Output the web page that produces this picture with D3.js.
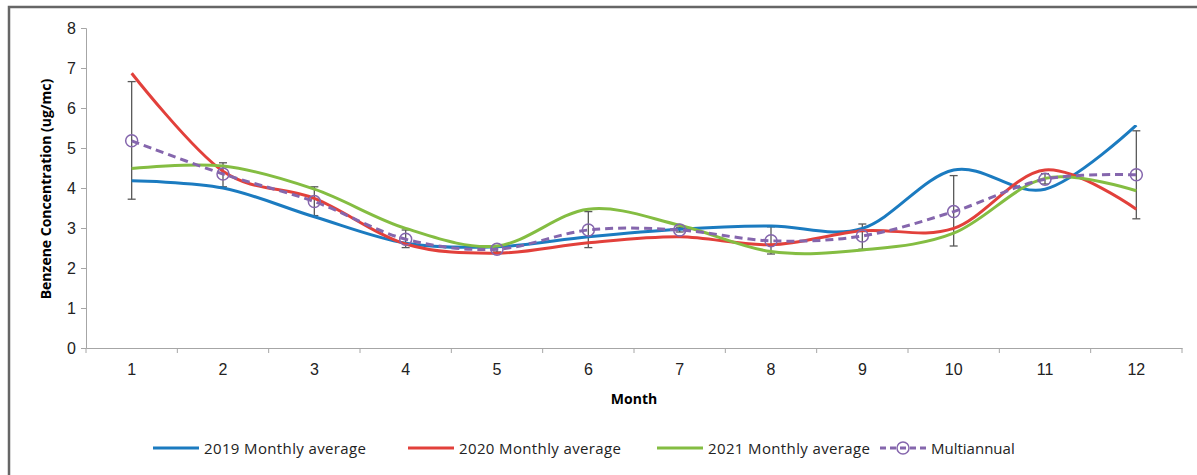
<!DOCTYPE html>
<html>
<head>
<meta charset="utf-8">
<script src="https://cdn.jsdelivr.net/npm/d3@7"></script>
<style>
  html, body { margin: 0; padding: 0; background: #fff; }
  svg { display: block; font-family: 'Open Sans', sans-serif; }
</style>
</head>
<body>
<div id="chart"></div>
<script>
const months = [1, 2, 3, 4, 5, 6, 7, 8, 9, 10, 11, 12];
const avg2019 = [4.18, 4.0, 3.28, 2.62, 2.53, 2.78, 2.97, 3.05, 2.99, 4.45, 3.97, 5.57];
const avg2020 = [6.87, 4.42, 3.74, 2.6, 2.37, 2.63, 2.78, 2.58, 2.93, 2.99, 4.45, 3.47];
const avg2021 = [4.49, 4.55, 3.97, 2.99, 2.55, 3.47, 3.07, 2.41, 2.45, 2.87, 4.24, 3.93];
const multiannual = [5.18, 4.35, 3.66, 2.72, 2.47, 2.95, 2.95, 2.68, 2.8, 3.41, 4.22, 4.33];
const errHigh = [6.66, 4.63, 4.03, 2.95, 2.56, 3.41, 3.02, 3.03, 3.1, 4.31, 4.36, 5.43];
const errLow = [3.72, 4.03, 3.31, 2.51, 2.4, 2.51, 2.9, 2.35, 2.47, 2.55, 4.1, 3.23];
const yTicks = [0, 1, 2, 3, 4, 5, 6, 7, 8];

const series = [
  { name: '2019 Monthly average', values: avg2019, color: '#1b7bc0' },
  { name: '2020 Monthly average', values: avg2020, color: '#e2403b' },
  { name: '2021 Monthly average', values: avg2021, color: '#84bd42' }
];
const purple = '#8566ad';

const W = 1197, H = 475;
const svg = d3.select('#chart').append('svg').attr('width', W).attr('height', H);

// Frame (only top and left edges are visible)
svg.append('path')
  .attr('d', `M9,${H} L9,7 L${W},7`)
  .attr('fill', 'none').attr('stroke', '#666').attr('stroke-width', 2.5);

const x = d3.scaleBand().domain(months).range([86, 1182]);
const y = d3.scaleLinear().domain([0, 8]).range([348, 28]);
const cx = d => x(d) + x.bandwidth() / 2;

// Y axis
const yAxis = svg.append('g').attr('transform', 'translate(86,0)')
  .call(d3.axisLeft(y).tickValues(yTicks).tickSize(5).tickFormat(d3.format('d')));
yAxis.select('.domain').attr('stroke', '#a6a6a6');
yAxis.selectAll('.tick line').attr('stroke', '#a6a6a6');
yAxis.selectAll('text').attr('x', -10).style('font-size', '16px').attr('fill', '#222');

// X axis
const xAxis = svg.append('g').attr('transform', 'translate(0,348)')
  .call(d3.axisBottom(x).tickSize(0).tickSizeOuter(0));
xAxis.select('.domain').attr('stroke', '#a6a6a6');
xAxis.selectAll('text').attr('y', 16).style('font-size', '16px').attr('fill', '#222');
// tick marks between categories
svg.append('g').selectAll('line')
  .data(d3.range(months.length + 1))
  .join('line')
  .attr('x1', i => 86 + i * x.bandwidth()).attr('x2', i => 86 + i * x.bandwidth())
  .attr('y1', 348).attr('y2', 353)
  .attr('stroke', '#a6a6a6');

// Axis titles
svg.append('text')
  .attr('transform', 'translate(51,189) rotate(-90)')
  .attr('text-anchor', 'middle')
  .style('font-size', '14px').style('font-weight', 'bold')
  .text('Benzene Concentration  (ug/mc)');
svg.append('text')
  .attr('x', 634).attr('y', 404)
  .attr('text-anchor', 'middle')
  .style('font-size', '14px').style('font-weight', 'bold')
  .text('Month');

const line = d3.line()
  .x((d, i) => cx(months[i]))
  .y(d => y(d))
  .curve(d3.curveCardinal.tension(0));

// Error bars
const eb = svg.append('g').attr('stroke', '#595959').attr('stroke-width', 1.3);
months.forEach((m, i) => {
  eb.append('line').attr('x1', cx(m)).attr('x2', cx(m)).attr('y1', y(errHigh[i])).attr('y2', y(errLow[i]));
  eb.append('line').attr('x1', cx(m) - 4).attr('x2', cx(m) + 4).attr('y1', y(errHigh[i])).attr('y2', y(errHigh[i]));
  eb.append('line').attr('x1', cx(m) - 4).attr('x2', cx(m) + 4).attr('y1', y(errLow[i])).attr('y2', y(errLow[i]));
});

// Yearly series
series.forEach(s => {
  svg.append('path')
    .attr('d', line(s.values))
    .attr('fill', 'none')
    .attr('stroke', s.color)
    .attr('stroke-width', 3);
});

// Multiannual
svg.append('path')
  .attr('d', line(multiannual))
  .attr('fill', 'none')
  .attr('stroke', purple)
  .attr('stroke-width', 3)
  .attr('stroke-dasharray', '8,5');
svg.append('g').selectAll('circle')
  .data(multiannual)
  .join('circle')
  .attr('cx', (d, i) => cx(months[i]))
  .attr('cy', d => y(d))
  .attr('r', 6)
  .attr('fill', 'none')
  .attr('stroke', purple)
  .attr('stroke-width', 1.5);

// Legend
const legend = [
  { name: series[0].name, color: series[0].color, x: 153, dash: null },
  { name: series[1].name, color: series[1].color, x: 408, dash: null },
  { name: series[2].name, color: series[2].color, x: 657, dash: null },
  { name: 'Multiannual', color: purple, x: 880, dash: '6,4', marker: true }
];
legend.forEach(l => {
  const g = svg.append('g').attr('transform', `translate(${l.x},448)`);
  g.append('line').attr('x1', 0).attr('x2', 46).attr('y1', 0).attr('y2', 0)
    .attr('stroke', l.color).attr('stroke-width', 3)
    .attr('stroke-dasharray', l.dash);
  if (l.marker) {
    g.append('circle').attr('cx', 23).attr('cy', 0).attr('r', 6)
      .attr('fill', 'none').attr('stroke', l.color).attr('stroke-width', 1.5);
  }
  g.append('text').attr('x', 51).attr('y', 6)
    .style('font-size', '15px').attr('fill', '#222')
    .attr('textLength', l.marker ? null : 162)
    .text(l.name);
});
</script>
</body>
</html>
